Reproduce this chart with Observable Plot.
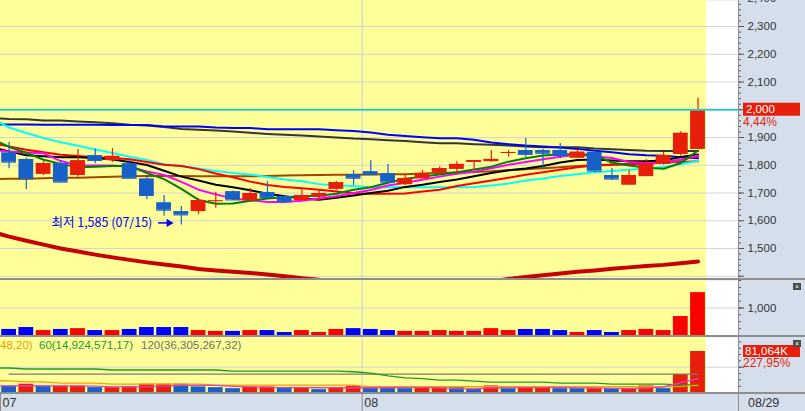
<!DOCTYPE html>
<html><head><meta charset="utf-8">
<script src="https://cdn.jsdelivr.net/npm/d3@7"></script>
<script src="https://cdn.jsdelivr.net/npm/@observablehq/plot@0.6"></script>
<style>
html,body{margin:0;padding:0;background:#fff;}
#chart{position:relative;width:805px;height:411px;background:#D5DFEC;overflow:hidden;font-family:"Liberation Sans",Arial,sans-serif;}
#chart svg{display:block;}
.pane{position:absolute;left:0;width:805px;}
.sep{position:absolute;left:0;width:805px;background:#8E8E8E;}
</style></head><body><div id="chart"></div>
<script>
// ---------- data ----------
const dates = ["07/01","07/04","07/05","07/06","07/07","07/08","07/11","07/12","07/13","07/14","07/15","07/18","07/19","07/20","07/21","07/22","07/25","07/26","07/27","07/28","07/29","08/01","08/02","08/03","08/04","08/05","08/08","08/09","08/10","08/11","08/12","08/16","08/17","08/18","08/19","08/22","08/23","08/24","08/25","08/26","08/29"];
const open  = [1845,1821,1767,1806,1763,1835,1817,1806,1751,1665,1633,1633,1670,1705,1672,1702,1687,1673,1685,1713,1766,1777,1770,1730,1751,1773,1785,1810,1813,1844,1853,1853,1853,1825,1847,1763,1728,1759,1803,1839,1857];
const high  = [1883,1825,1813,1817,1857,1859,1860,1817,1763,1691,1651,1679,1703,1707,1716,1741,1691,1713,1713,1741,1781,1817,1803,1763,1781,1795,1813,1817,1853,1853,1896,1857,1878,1857,1857,1788,1781,1821,1847,1922,2042];
const low   = [1787,1713,1763,1739,1757,1805,1810,1751,1677,1616,1585,1622,1645,1673,1667,1684,1663,1669,1669,1710,1727,1763,1739,1727,1751,1763,1766,1781,1811,1829,1829,1788,1824,1824,1775,1745,1728,1759,1800,1832,1857];
const close = [1811,1751,1806,1739,1816,1817,1832,1753,1691,1638,1621,1673,1672,1675,1698,1684,1669,1691,1698,1737,1753,1766,1739,1752,1770,1788,1803,1817,1821,1846,1839,1843,1835,1847,1779,1750,1763,1805,1835,1915,2000];
// price moving averages: first value is the previous session (06/30)
const maGray   = [1970,1967,1966,1961,1961,1958,1955,1951,1946,1943,1938,1931,1928,1925,1922,1917,1913,1910,1907,1904,1900,1896,1894,1890,1887,1883,1879,1879,1876,1874,1871,1868,1865,1865,1865,1860,1858,1855,1852,1851,1851,1851];
const maBlue   = [1947,1947,1947,1946,1946,1946,1946,1945,1945,1945,1940,1940,1940,1936,1934,1934,1930,1930,1930,1930,1926,1923,1918,1910,1905,1901,1897,1897,1892,1882,1876,1871,1868,1864,1859,1852,1847,1840,1836,1834,1829,1825];
const maCyan   = [1968,1936,1916,1898,1883,1870,1857,1844,1831,1819,1804,1797,1788,1779,1772,1767,1758,1749,1742,1732,1727,1725,1721,1721,1721,1721,1721,1721,1722,1727,1734,1745,1752,1761,1768,1775,1779,1784,1787,1794,1804,1815];
const maRed    = [1880,1868,1856,1847,1838,1833,1829,1826,1822,1812,1802,1797,1786,1770,1757,1741,1729,1722,1717,1712,1705,1699,1697,1697,1698,1705,1712,1725,1735,1745,1755,1766,1775,1784,1793,1799,1802,1803,1805,1810,1820,1832];
const maBlack  = [1865,1850,1836,1832,1829,1829,1826,1821,1812,1801,1780,1759,1745,1730,1721,1710,1697,1688,1680,1676,1683,1691,1700,1708,1722,1730,1740,1749,1760,1772,1782,1788,1797,1810,1819,1821,1817,1814,1814,1817,1830,1839];
const maPink   = [1855,1850,1846,1843,1815,1800,1799,1799,1795,1778,1765,1740,1712,1695,1680,1674,1668,1668,1672,1680,1688,1700,1711,1727,1737,1748,1759,1769,1777,1789,1802,1812,1822,1831,1838,1832,1826,1812,1808,1808,1820,1835];
const maGreen  = [1895,1866,1845,1820,1805,1793,1795,1797,1797,1772,1750,1715,1675,1661,1662,1672,1680,1685,1688,1690,1697,1712,1721,1737,1751,1759,1767,1775,1785,1795,1813,1825,1835,1839,1841,1837,1810,1799,1791,1787,1808,1853];
const maBrown  = [1750,1751,1751,1753,1755,1755,1757,1759,1760,1761,1761,1761,1760,1760,1760,1760,1761,1763,1764,1765,1766,1766,1767,1768,1768,1770,1772,1774,1776,1778,1782,1786,1789,1793,1797,1800,1803,1805,1808,1810,1812,1814];
const maLong   = [1560,1543,1528,1514,1500,1489,1478,1468,1459,1450,1442,1435,1426,1421,1416,1412,1406,1400,1393,1387,1380,1376,1373,1371,1370,1370,1371,1373,1377,1382,1390,1397,1404,1410,1416,1421,1427,1432,1437,1441,1447,1453];
// volume (thousand shares)
const volume = [220,290,180,220,250,180,180,220,290,290,290,180,150,150,180,180,110,180,110,220,250,220,180,150,150,180,150,150,250,180,220,220,180,110,180,110,180,220,180,690,1560];
// lower panel values (K) and colour flags (1 = red, 0 = blue)
const amount = [12400,16400,12400,12400,12400,9600,9600,11000,16400,16400,16400,11000,9600,7600,11000,11000,9600,9600,5600,9600,12400,9600,9600,7600,9600,9600,9600,6400,13000,7600,11000,11000,7600,7600,7600,7600,7600,13000,7600,35562,81064];
const amountUp = [0,1,0,1,1,0,1,1,1,1,0,0,0,0,1,1,0,1,0,1,1,0,0,0,1,1,0,0,1,0,1,1,0,0,1,0,1,1,0,1,1];
const amt5   = [13000,13000,13500,13200,13200,13200,12600,11300,11000,11800,12600,14000,14200,14000,12200,11100,10000,9800,9800,9400,9100,9400,9400,9400,9800,9800,9200,7000,7000,9600,9200,9500,9800,10000,9000,9000,8300,7600,8700,11000,19600,27600];
const amt20  = [23500,23020,21020,21020,18410,18410,18410,16410,16410,16410,16410,16410,16410,14410,14410,14410,14410,14410,14410,14410,14410,14410,11400,11400,11400,11400,11400,11400,11400,11400,11400,11400,11400,11400,11400,11400,11400,11400,11400,11400,12000,14000];
const amt60  = [48440,48440,46440,46440,46440,46440,46440,44440,44440,44440,44440,44440,44440,44440,42430,42430,42430,42430,42430,42430,42430,41030,38430,33030,29020,27500,24420,24420,22420,20420,20420,20420,20420,18410,18410,18410,16410,16410,16410,16410,14924,14924];
const amt120 = [36305,36305,36305,36305,36305,36305,36305,36305,36305,36305,36305,36305,36305,36305,36305,36305,36305,36305,36305,36305,36305,36305,36305,36305,36305,36305,36305,36305,36305,36305,36305,36305,36305,36305,36305,36305,36305,36305,36305,36305,36305,36305];
const legendParts = [["48,20)", "#E8A000"], ["60(14,924,571,17)", "#1E9A2E"], ["120(36,305,267,32)", "#6E6E6E"]];
const gridTicks = [1400,1500,1600,1700,1800,1900,2000,2100,2200,2300,2400];
const labelTicks = [1500,1600,1700,1800,1900,2000,2100,2200,2300,2400];

// ---------- setup ----------
const RED = "#E61E0A", BLUE = "#1660C8", YEL = "#FFFF99", GRID = "#D4D4D4", VGRID = "#C8CCDA";
const fmt = d3.format(",");
const n = dates.length, last = n - 1;
const idx = d3.range(n);
const up = idx.map(i => close[i] >= open[i]);
const monthStarts = idx.filter(i => i === 0 || dates[i].slice(0, 2) !== dates[i - 1].slice(0, 2));
const xDomain = [-0.5, 42.35];
const HW = 0.43;
const FONT = "Liberation Sans, Arial, sans-serif";
const root = document.getElementById("chart");

function pane(top, svg) {
  const d = document.createElement("div");
  d.className = "pane"; d.style.top = top + "px";
  d.appendChild(svg); root.appendChild(d);
}
function sep(top, h) {
  const d = document.createElement("div");
  d.className = "sep"; d.style.top = top + "px"; d.style.height = h + "px";
  root.appendChild(d);
}
const common = (height, yDomain, marks) => Plot.plot({
  width: 805, height, marginLeft: 0, marginRight: 67, marginTop: 0, marginBottom: 0,
  x: {domain: xDomain, axis: null},
  y: {domain: yDomain},
  style: {background: "transparent", overflow: "visible", fontFamily: FONT},
  marks
});
const backdrop = (gridVals) => [
  Plot.frame({fill: "white", stroke: "none"}),
  Plot.rect([0], {x1: -0.5, x2: n - 0.5, fill: YEL}),
  Plot.ruleY(gridVals, {stroke: GRID}),
  Plot.ruleX(monthStarts.filter(i => i > 0), {x: i => i - 0.5, stroke: VGRID})
];
const maLine = (arr, stroke, strokeWidth = 2) =>
  Plot.line(arr, {x: (d, j) => j - 1, y: d => d, stroke, strokeWidth, clip: true});
const txt = (sel, x, y, s, fill, size) => sel.append("text").attr("x", x).attr("y", y).attr("dy", "0.36em")
  .attr("text-anchor", "start").attr("font-family", FONT).attr("font-size", size).attr("fill", fill).text(s);

// ---------- price panel ----------
const minI = d3.minIndex(low);
const price = common(278, [1391.9, 2393.7], [
  ...backdrop(gridTicks),
  maLine(maLong, "#C80000", 4),
  maLine(maGray, "#363636"),
  maLine(maBlue, "#0000FF"),
  maLine(maBrown, "#A04800"),
  maLine(maCyan, "#00FFFF"),
  maLine(maRed, "#FF0000"),
  maLine(maBlack, "#000000"),
  maLine(maPink, "#FF00FF"),
  maLine(maGreen, "#008000"),
  Plot.ruleX(idx, {x: i => i, y1: i => low[i], y2: i => high[i], stroke: i => up[i] ? RED : BLUE, strokeWidth: 1.2}),
  Plot.rect(idx, {x1: i => i - HW, x2: i => i + HW, y1: i => open[i], y2: i => close[i], fill: i => up[i] ? RED : BLUE}),
  Plot.ruleY(idx, {y: i => close[i], x1: i => i - HW, x2: i => i + HW, stroke: i => up[i] ? RED : BLUE}),
  Plot.ruleY([close[last]], {stroke: "#30C8C8", strokeWidth: 2}),
  Plot.text([minI], {x: i => i, y: i => low[i], dx: -29, dy: -2, textAnchor: "end",
    text: i => `최저 ${fmt(low[i])} (${dates[i]})`, fill: "#0000F0", fontSize: 12.5, fontFamily: "Noto Sans CJK KR"}),
  Plot.ruleY([minI], {y: i => low[i], x1: i => i - 1.32, x2: i => i - 0.75, dy: -2, stroke: "#0000F0", strokeWidth: 1.5}),
  Plot.dot([minI], {x: i => i - 0.72, y: i => low[i], dy: -2, symbol: "triangle", rotate: 90, r: 3, fill: "#0000F0", stroke: "none"}),
  Plot.axisY({anchor: "right", ticks: d3.range(1400, 2401, 20), tickSize: 2, tickFormat: () => "", color: "#555", label: null}),
  Plot.axisY({anchor: "right", ticks: gridTicks, tickSize: 5, tickFormat: () => "", color: "#555", label: null}),
  Plot.axisY({anchor: "right", ticks: labelTicks, tickSize: 0, tickPadding: 9, tickFormat: fmt, color: "#333", fontSize: 11.5, label: null})
]);
{
  const y = price.scale("y").apply(close[last]);
  const g = d3.select(price).append("g");
  g.append("rect").attr("x", 743).attr("y", y - 6.5).attr("width", 57).attr("height", 13).attr("fill", RED);
  txt(g, 746, y, fmt(close[last]), "white", 11.5);
  const pct = ((close[last] / close[last - 1] - 1) * 100).toFixed(2).replace(".", ",") + "%";
  txt(g, 743, y + 12, pct, RED, 12);
}
pane(0, price);
sep(278, 2);

// ---------- volume panel ----------
const vol = common(55, [0, 2000], [
  ...backdrop([0, 1000]),
  Plot.rectY(idx, {x1: i => i - HW, x2: i => i + HW, y: i => volume[i], fill: i => up[i] ? "#FF0000" : "#0000FF"}),
  Plot.axisY({anchor: "right", ticks: d3.range(0, 2001, 250), tickSize: 2, tickFormat: () => "", color: "#555", label: null}),
  Plot.axisY({anchor: "right", ticks: [1000], tickSize: 5, tickPadding: 4, tickFormat: fmt, color: "#333", fontSize: 11.5, label: null})
]);
function closeBtn(svg) {
  const g = d3.select(svg).append("g");
  g.append("rect").attr("x", 793).attr("y", 3).attr("width", 8).attr("height", 7).attr("fill", "#4A4A4A");
  g.append("text").attr("x", 797).attr("y", 6.5).attr("dy", "0.35em").attr("text-anchor", "middle")
    .attr("fill", "white").attr("font-size", 7).attr("font-family", FONT).text("×");
}
closeBtn(vol);
pane(280, vol);
sep(335, 2);

// ---------- lower panel ----------
const amtLine = (arr, stroke) => Plot.line(arr, {x: (d, j) => j - 1, y: d => d, stroke, strokeWidth: 1.3, clip: true});
const amt = common(55, [0, 108740], [
  ...backdrop([0, 50000]),
  Plot.rectY(idx, {x1: i => i - HW, x2: i => i + HW, y: i => amount[i], fill: i => amountUp[i] ? RED : BLUE}),
  Plot.line(amt120.slice(1), {x: (d, j) => j, y: d => d, stroke: "#7A7A7A", strokeWidth: 1.3}),
  amtLine(amt60, "#1E9A2E"),
  amtLine(amt20, "#F0A000"),
  amtLine(amt5, "#E83CC8"),
  Plot.axisY({anchor: "right", ticks: d3.range(0, 108001, 12500), tickSize: 2, tickFormat: () => "", color: "#555", label: null}),
  Plot.axisY({anchor: "right", ticks: [50000], tickSize: 5, tickFormat: () => "", color: "#555", label: null})
]);
{
  const y = amt.scale("y").apply(amount[last]);
  const g = d3.select(amt).append("g");
  g.append("rect").attr("x", 743).attr("y", y - 6).attr("width", 57).attr("height", 12).attr("fill", RED);
  txt(g, 745, y, fmt(amount[last]) + "K", "white", 11.5);
  const pct = (amount[last] / amount[last - 1] * 100).toFixed(2).replace(".", ",") + "%";
  txt(g, 743, y + 11.5, pct, RED, 12);
  const lg = d3.select(amt).append("text").attr("y", 8).attr("dy", "0.36em").attr("text-anchor", "start")
    .attr("font-family", FONT).attr("font-size", 11.5);
  const xs = [0, 39, 141];
  legendParts.forEach(([t, c], k) => lg.append("tspan").attr("x", xs[k]).attr("fill", c).text(t));
}
closeBtn(amt);
pane(337, amt);
sep(392, 2);

// ---------- date axis ----------
const dax = Plot.plot({
  width: 805, height: 17, marginLeft: 0, marginRight: 67, marginTop: 0, marginBottom: 0,
  x: {domain: xDomain, axis: null},
  style: {background: "transparent", overflow: "visible", fontFamily: FONT},
  marks: [
    Plot.ruleX(monthStarts, {x: i => i - 0.5, stroke: "#8E8E8E"}),
    Plot.text(monthStarts, {x: i => i - 0.5, text: i => dates[i].slice(0, 2), textAnchor: "start", dx: 2, fill: "#333", fontSize: 12.5})
  ]
});
txt(d3.select(dax), 748, 8.5, dates[last], "#333", 12.5);
pane(394, dax);

// right axis border
const vb = document.createElement("div");
vb.style.cssText = "position:absolute;left:738px;top:0;width:1px;height:411px;background:#8E8E8E;";
root.appendChild(vb);
</script></body></html>
